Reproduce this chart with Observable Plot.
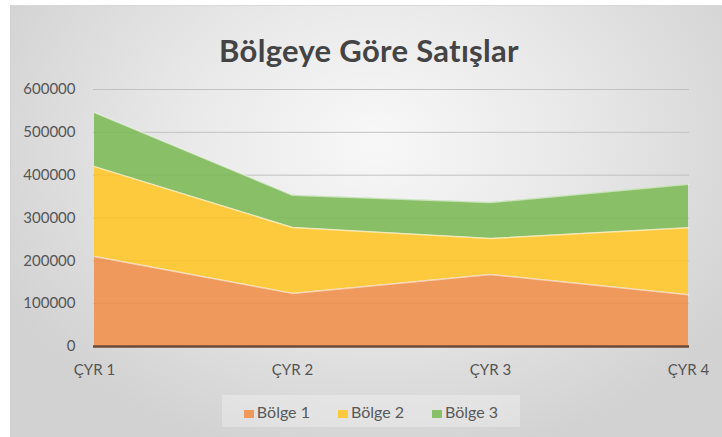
<!DOCTYPE html>
<html>
<head>
<meta charset="utf-8">
<script src="https://cdn.jsdelivr.net/npm/d3@7"></script>
<script src="https://cdn.jsdelivr.net/npm/@observablehq/plot@0.6"></script>
<style>
  html, body { margin: 0; padding: 0; background: #ffffff; width: 722px; height: 437px; overflow: hidden; }
  #card {
    position: absolute; left: 10px; top: 5px; width: 730px; height: 450px;
    border-left: 1px solid #d0d0d0; border-top: 1px solid #d8d8d8;
    background: radial-gradient(ellipse 58% 72% at 50% 30%, #f8f8f8 0%, #e9e9e9 45%, #d2d2d2 100%);
  }
  #title {
    position: absolute; left: 0; width: 738px; top: 31px; text-align: center;
    font-family: Lato, "Open Sans", sans-serif; font-weight: 700; font-size: 31px; color: #444444;
    letter-spacing: 0.3px;
  }
  #chart { position: absolute; left: 0; top: 0; }
  #legend {
    position: absolute; left: 222px; top: 395px; width: 298px; height: 32px;
    background: rgba(255,255,255,0.28);
    display: flex; align-items: center; justify-content: center; gap: 28px;
    font-family: Lato, "Open Sans", sans-serif; font-size: 16px; color: #595959;
  }
  .item { display: flex; align-items: center; }
  .sw { width: 10px; height: 8px; margin-right: 3px; margin-top: 6px; }
</style>
</head>
<body>
<div id="card"></div>
<div id="title">Bölgeye Göre Satışlar</div>
<div id="chart"></div>
<div id="legend"></div>
<script>
const quarters = ["ÇYR 1", "ÇYR 2", "ÇYR 3", "ÇYR 4"];
const regions = ["Bölge 1", "Bölge 2", "Bölge 3"];
const bolge1 = [210000, 124000, 168000, 121000];
const bolge2 = [210000, 154000, 84000, 156000];
const bolge3 = [126000, 75000, 84000, 102000];
const yTicks = [0, 100000, 200000, 300000, 400000, 500000, 600000];
const colors = ["#EF9A5C", "#FCCA3C", "#88BF67"];

const series = [bolge1, bolge2, bolge3];
const data = [];
regions.forEach((r, i) => quarters.forEach((q, j) => data.push({quarter: q, region: r, value: series[i][j]})));

const stackOpts = {x: "quarter", y: "value", z: "region", order: regions};

const chart = Plot.plot({
  width: 722,
  height: 437,
  marginLeft: 93,
  marginRight: 33,
  marginTop: 89,
  marginBottom: 91,
  style: {fontFamily: "Lato, 'Open Sans', sans-serif", fontSize: "15px", color: "#555555", background: "transparent", overflow: "visible"},
  x: {type: "point", domain: quarters, padding: 0},
  y: {domain: [0, 600000]},
  color: {domain: regions, range: colors},
  marks: [
    Plot.ruleY(yTicks.filter(d => d > 0), {stroke: "#c9c9c9", strokeWidth: 1}),
    Plot.areaY(data, Plot.stackY({...stackOpts, fill: "region"})),
    Plot.ruleY(yTicks.filter(d => d > 0), {stroke: "#000", strokeOpacity: 0.035, strokeWidth: 1}),
    Plot.lineY(data, Plot.stackY2({...stackOpts, stroke: "#ffffff", strokeOpacity: 0.55, strokeWidth: 1.5})),
    Plot.ruleY([0], {stroke: "#6e4a35", strokeWidth: 2.5}),
    Plot.axisY({ticks: yTicks, tickFormat: d3.format("d"), tickSize: 0, tickPadding: 18, label: null, fill: "#555555"}),
    Plot.axisX({tickSize: 0, tickPadding: 18, label: null, fill: "#555555"})
  ]
});
document.getElementById("chart").appendChild(chart);

const legend = document.getElementById("legend");
regions.forEach((r, i) => {
  const it = document.createElement("div");
  it.className = "item";
  const sw = document.createElement("span");
  sw.className = "sw";
  sw.style.background = colors[i];
  const tx = document.createElement("span");
  tx.textContent = r;
  it.appendChild(sw);
  it.appendChild(tx);
  legend.appendChild(it);
});
</script>
</body>
</html>
